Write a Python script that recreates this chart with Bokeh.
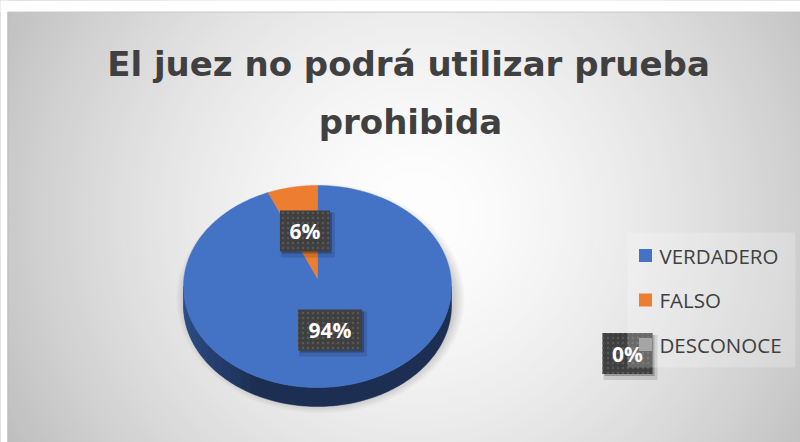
import numpy as np
from bokeh.plotting import figure
from bokeh.models import Range1d
from bokeh.core.properties import value
from bokeh.embed import file_html
from bokeh.resources import INLINE

# ---- data ----
title_lines = ["El juez no podrá utilizar prueba", "prohibida"]
categories = ["VERDADERO", "FALSO", "DESCONOCE"]
values = [94, 6, 0]
labels = ["94%", "6%", "0%"]
colors = ["#4472C4", "#ED7D31", "#A5A5A5"]

W, H = 800, 442
OX, OY = 0, 0


def X(ix):
    return ix - OX


def Y(iy):
    return (H + OY) - iy


p = figure(width=W, height=H, x_range=Range1d(0, W), y_range=Range1d(0, H),
           output_backend="svg", toolbar_location=None, min_border=0,
           x_axis_type=None, y_axis_type=None)
p.grid.visible = False
p.outline_line_color = None
p.background_fill_color = "white"
p.border_fill_color = "white"

# ---- radial gradient background ----
gcx, gcy = X(415), Y(215)
radii = np.arange(500, 0, -5.0)
gcols = []
for r in radii:
    v = 255 - 60 * (r / 450.0) ** 1.5
    v = int(max(185, min(253, v)))
    gcols.append("#%02x%02x%02x" % (v, v, v))
p.circle(x=[gcx] * len(radii), y=[gcy] * len(radii), radius=radii,
         fill_color=gcols, line_color=None)
# white margins outside chart area + border
p.quad(left=X(-10), right=X(810), bottom=Y(11.5), top=Y(-10), fill_color="white", line_color=None)
p.quad(left=X(-10), right=X(7), bottom=Y(450), top=Y(-10), fill_color="white", line_color=None)
p.line(x=[X(7), X(800)], y=[Y(11.5), Y(11.5)], line_color="#c8c8c8", line_width=1)
p.line(x=[X(7.5), X(7.5)], y=[Y(11.5), Y(442)], line_color="#bdbdbd", line_width=1)

# ---- pie geometry ----
PCX, PCY = 317, 286
RX, RY, DEPTH = 134, 101, 19
APX, APY = 317, 278
cx, cy = X(PCX), Y(PCY)
ax_, ay_ = X(APX), Y(APY)

total = float(sum(values))
starts, ends = [], []
a = 90.0
for v in values:
    starts.append(a)
    a2 = a - v / total * 360.0
    ends.append(a2)
    a = a2

# shadow under pie
for k in range(8):
    p.ellipse(x=cx + 3, y=cy - 12, width=2 * (RX + 10 - k * 1.5), height=2 * (RY + 14 - k * 1.5),
              fill_color="black", fill_alpha=0.025, line_color=None)


def shade(hexc, f):
    r, g, b = int(hexc[1:3], 16), int(hexc[3:5], 16), int(hexc[5:7], 16)
    return "#%02x%02x%02x" % (int(r * f), int(g * f), int(b * f))


def side_poly(t_from, t_to, n=160):
    th = np.radians(np.linspace(t_from, t_to, n))
    xs = list(cx + RX * np.cos(th)) + list(cx + RX * np.cos(th[::-1]))
    ys = list(cy + RY * np.sin(th)) + list(cy + RY * np.sin(th[::-1]) - DEPTH)
    return xs, ys


# side (front half, 180..360 deg), per slice, dark base colour
sx, sy, sc = [], [], []
for v, s, e, c in zip(values, starts, ends, colors):
    if v <= 0:
        continue
    lo, hi = min(s, e), max(s, e)
    for off in (-360.0, 0.0, 360.0):
        a0, a1 = max(lo + off, 180.0), min(hi + off, 360.0)
        if a1 - a0 > 0.01:
            xs, ys = side_poly(a0, a1)
            sx.append(xs)
            sy.append(ys)
            sc.append(shade(c, 0.42))
p.patches(xs=sx, ys=sy, fill_color=sc, line_color=sc, line_width=0.5)

# lighter left part of the side (overlapping translucent layers -> smooth gradient)
lx, ly = [], []
for k in range(1, 13):
    xs, ys = side_poly(180.0, 180.0 + k * 5.0, 60)
    lx.append(xs)
    ly.append(ys)
p.patches(xs=lx, ys=ly, fill_color="#4472C4", fill_alpha=0.06, line_color=None)

# top face
tx, ty, tc = [], [], []
for v, s, e, c in zip(values, starts, ends, colors):
    if v <= 0:
        continue
    th = np.radians(np.linspace(s, e, 300))
    tx.append([ax_] + list(cx + RX * np.cos(th)))
    ty.append([ay_] + list(cy + RY * np.sin(th)))
    tc.append(c)
p.patches(xs=tx, ys=ty, fill_color=tc, line_color=tc, line_width=0.5)

# ---- legend layout ----
LEG_L, LEG_R, LEG_T, LEG_B = 627, 795, 232, 367
ROW0, ROWSTEP = 255, 44.5
MKX, TXX = 645, 659
row_y = [Y(ROW0 + i * ROWSTEP) for i in range(len(categories))]

# ---- data labels ----
lab_x, lab_y, lab_w = [], [], []
for i, (v, s, e) in enumerate(zip(values, starts, ends)):
    if v > 0:
        m = np.radians((s + e) / 2)
        lab_x.append(X(317) + 0.5 * RX * np.cos(m))
        lab_y.append(Y(280) + 0.5 * RY * np.sin(m))
    else:
        lab_x.append(X(MKX) - 18)
        lab_y.append(row_y[i] - 9)
    lab_w.append(22 + 14 * len(labels[i]))

p.rect(x=[x + 3 for x in lab_x], y=[y - 4 for y in lab_y], width=[w + 4 for w in lab_w], height=45,
       fill_color="black", fill_alpha=0.12, line_color=None)
p.rect(x=[x + 2 for x in lab_x], y=[y - 2 for y in lab_y], width=lab_w, height=41,
       fill_color="black", fill_alpha=0.25, line_color=None)
p.rect(x=lab_x, y=lab_y, width=lab_w, height=41, fill_color="#3f3f3f", line_color=None,
       hatch_pattern="dot", hatch_color="#575757", hatch_scale=5, hatch_weight=1)
p.text(x=lab_x, y=lab_y, text=labels, text_color="white", text_font=value("Open Sans"),
       text_font_style="bold", text_font_size="21px", text_align="center", text_baseline="middle")

# legend drawn over
p.quad(left=X(LEG_L), right=X(LEG_R), bottom=Y(LEG_B), top=Y(LEG_T),
       fill_color="white", fill_alpha=0.22, line_color=None)
p.rect(x=[X(MKX)] * len(categories), y=row_y, width=13, height=13, fill_color=colors, line_color=None)
p.text(x=[X(TXX)] * len(categories), y=row_y, text=categories, text_color="#404040",
       text_font=value("Open Sans"), text_font_size="20.5px", text_align="left", text_baseline="middle")

# ---- title ----
p.text(x=[X(408), X(410)], y=[Y(63), Y(121)], text=title_lines, text_color="#404040",
       text_font=value("DejaVu Sans"), text_font_style="bold", text_font_size="34px",
       text_align="center", text_baseline="alphabetic")

open("out.html", "w").write(file_html(p, INLINE))
